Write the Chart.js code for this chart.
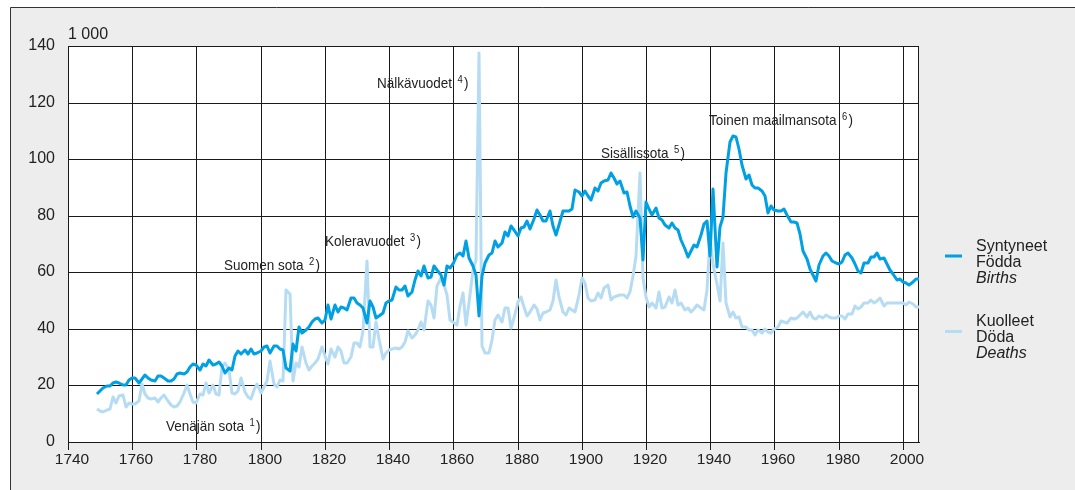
<!DOCTYPE html>
<html><head><meta charset="utf-8">
<script src="https://cdn.jsdelivr.net/npm/chart.js@4.4.1/dist/chart.umd.min.js"></script>
<style>
html,body{margin:0;padding:0;background:#fff;}
canvas{display:block;}
</style></head><body>
<canvas id="c" width="1075" height="490"></canvas>
<script>
// ---------------- DATA ----------------
const FIRST_YEAR = 1749;
// Live births, thousands (1749 ... 2005)
const births = [
  17.0,
  18.0, 19.0, 19.7, 19.8, 20.8, 21.2, 20.8, 20.2, 20.0, 22.0,
  22.8, 22.5, 21.0, 22.2, 23.6, 22.8, 22.0, 21.7, 23.2, 23.4,
  22.8, 21.7, 21.5, 22.2, 23.9, 24.3, 23.9, 24.7, 26.4, 27.7,
  27.2, 25.5, 27.7, 27.0, 28.9, 27.1, 27.5, 28.2, 26.8, 24.5,
  26.2, 25.5, 30.5, 32.2, 31.0, 32.5, 31.0, 32.8, 31.2, 31.5,
  32.0, 33.5, 34.0, 31.5, 34.0, 34.0, 33.0, 32.5, 26.0, 25.0,
  34.5, 32.0, 40.5, 38.5, 39.7, 40.8, 42.5, 43.5, 43.8, 42.0,
  43.0, 48.5, 43.5, 48.5, 46.0, 47.9, 47.3, 46.7, 50.9, 50.9,
  49.1, 48.5, 47.3, 42.0, 50.0, 47.9, 43.8, 44.6, 45.5, 49.1,
  49.7, 50.3, 54.8, 53.8, 53.6, 55.0, 51.5, 53.2, 57.4, 60.3,
  58.6, 62.3, 58.0, 58.4, 62.3, 60.9, 59.1, 55.6, 62.1, 61.5,
  63.1, 66.2, 66.8, 65.8, 70.9, 65.0, 62.1, 59.1, 44.4, 58.6,
  63.3, 66.2, 66.8, 70.9, 69.1, 70.3, 74.1, 72.7, 76.5, 75.1,
  72.7, 75.7, 76.0, 78.0, 75.3, 78.9, 81.9, 80.4, 78.0, 78.0,
  81.8, 76.2, 73.3, 76.8, 81.8, 81.5, 81.8, 82.4, 89.2, 88.3,
  86.9, 88.6, 86.9, 85.7, 89.9, 88.6, 91.6, 92.4, 92.5, 95.1,
  93.3, 91.3, 92.4, 88.0, 88.3, 83.3, 79.7, 81.5, 79.2, 64.4,
  84.7, 82.2, 80.3, 82.8, 79.2, 78.6, 76.6, 75.6, 77.3, 75.6,
  75.0, 71.5, 68.4, 65.4, 67.4, 69.7, 68.9, 73.2, 77.2, 78.0,
  65.6, 89.6, 62.0, 76.1, 79.5, 95.0, 106.1, 108.2, 107.8, 103.5,
  98.1, 93.1, 94.3, 90.9, 89.8, 89.7, 88.9, 87.0, 81.1, 83.3,
  82.1, 81.5, 81.5, 82.3, 80.4, 77.9, 77.7, 77.3, 73.7, 67.5,
  64.6, 61.1, 58.9, 56.8, 62.5, 65.7, 66.8, 65.7, 64.0, 63.4,
  63.1, 63.5, 66.1, 66.9, 65.1, 62.8, 60.6, 59.8, 63.3, 63.3,
  65.5, 65.4, 66.7, 64.8, 65.2, 63.1, 60.7, 59.3, 57.1, 57.6,
  56.7, 56.2, 55.6, 56.6, 57.8, 57.7
];
// Deaths, thousands (1749 ... 2005)
const deaths = [
  11.5,
  11.0, 10.5, 11.3, 11.5, 15.8, 13.8, 16.3, 16.5, 12.5, 13.8,
  13.5, 13.6, 14.5, 20.6, 17.0, 15.5, 15.2, 15.6, 14.0, 15.5,
  16.7, 14.5, 13.2, 12.5, 12.6, 14.2, 17.5, 20.0, 17.0, 14.2,
  13.8, 17.0, 16.5, 20.8, 17.2, 20.0, 16.8, 16.5, 26.5, 28.0,
  25.5, 17.5, 17.0, 18.0, 22.8, 17.6, 15.8, 15.2, 18.5, 20.5,
  17.5, 19.5, 21.5, 28.5, 20.5, 19.5, 22.0, 21.5, 53.8, 52.5,
  21.5, 28.0, 26.5, 33.5, 28.0, 25.5, 27.0, 28.0, 29.5, 33.5,
  30.5, 27.5, 33.0, 30.0, 33.5, 32.0, 28.0, 27.8, 30.2, 35.0,
  35.0, 33.7, 39.1, 64.0, 33.5, 33.7, 42.6, 36.5, 29.5, 31.4,
  32.6, 33.0, 33.2, 32.9, 33.5, 35.5, 39.1, 36.7, 37.9, 39.7,
  42.6, 39.7, 49.7, 48.5, 43.8, 55.0, 58.0, 55.6, 52.0, 43.2,
  42.6, 41.4, 48.0, 52.6, 41.4, 49.1, 60.9, 64.4, 137.7, 34.0,
  31.6, 31.6, 36.1, 43.2, 44.9, 42.6, 47.3, 47.3, 40.2, 44.0,
  49.6, 51.4, 47.9, 44.4, 46.1, 48.5, 47.0, 43.2, 45.6, 46.1,
  46.7, 49.7, 57.4, 51.4, 46.1, 44.9, 47.3, 46.5, 46.1, 52.0,
  58.0, 56.2, 50.9, 49.7, 50.3, 52.6, 50.9, 54.4, 55.6, 50.3,
  51.4, 51.7, 52.0, 52.0, 50.9, 53.2, 58.6, 65.7, 95.1, 58.0,
  51.4, 47.9, 49.0, 47.3, 53.2, 47.3, 47.9, 51.3, 49.1, 53.8,
  48.5, 49.0, 46.7, 47.3, 46.1, 47.0, 48.3, 47.3, 46.7, 53.8,
  71.8, 63.0, 56.0, 49.7, 70.3, 49.1, 44.3, 46.1, 43.7, 44.3,
  40.7, 40.5, 39.5, 39.7, 38.0, 39.6, 38.6, 40.0, 38.8, 38.7,
  39.8, 40.6, 42.9, 42.5, 42.0, 44.0, 43.5, 43.8, 45.0, 45.9,
  44.1, 45.9, 43.9, 43.4, 44.7, 43.8, 44.8, 44.1, 43.7, 43.7,
  44.4, 44.4, 43.4, 45.4, 45.1, 48.2, 47.1, 47.9, 49.1, 49.1,
  50.1, 49.3, 49.8, 50.9, 48.0, 49.3, 49.2, 49.1, 49.3, 49.3,
  49.3, 48.6, 49.4, 48.9, 47.6, 47.9
];
const years = births.map((_, i) => FIRST_YEAR + i);
const xTickValues = [1740, 1760, 1780, 1800, 1820, 1840, 1860, 1880, 1900, 1920, 1940, 1960, 1980, 2000];
const yTickValues = [0, 20, 40, 60, 80, 100, 120, 140];
const unitLabel = '1 000';
const seriesNames = [['Syntyneet', 'Födda', 'Births'], ['Kuolleet', 'Döda', 'Deaths']];
const eventLabels = ['Venäjän sota', 'Suomen sota', 'Koleravuodet', 'Nälkävuodet', 'Sisällissota', 'Toinen maailmansota'];
const eventNotes = ['1', '2', '3', '4', '5', '6'];

// ---------------- STYLE / LAYOUT ----------------
const FONT = '"Liberation Sans", Arial, Helvetica, sans-serif';
const BIRTH_COLOR = '#00a0e3';
const DEATH_COLOR = '#b6dcf4';
const GRID = '#1a1a1a';
const TEXT = '#222';
// anchor of each event label (x in years, y in thousands: left edge / baseline)
const eventAnchors = [[1770.6, 3.9], [1788.7, 60.9], [1819.9, 69.4], [1836.1, 125.0], [1906.1, 100.4], [1939.6, 112.2]];

function drawNote(ctx, x, y, text, sup) {
  ctx.save();
  ctx.translate(x, y);
  ctx.scale(0.9, 1);
  ctx.fillStyle = TEXT;
  ctx.textBaseline = 'alphabetic';
  ctx.textAlign = 'left';
  ctx.font = '15px ' + FONT;
  ctx.fillText(text, 0, 0);
  let w = ctx.measureText(text).width + 6;
  ctx.font = '10.5px ' + FONT;
  ctx.fillText(sup, w, -5.5);
  w += ctx.measureText(sup).width + 1.5;
  ctx.font = '15px ' + FONT;
  ctx.fillText(')', w, 0);
  ctx.restore();
}

const decor = {
  id: 'decor',
  beforeDraw(chart) {
    const { ctx, chartArea: a, width, height } = chart;
    ctx.save();
    ctx.fillStyle = '#fff';
    ctx.fillRect(0, 0, width, height);
    ctx.fillStyle = '#ededed';
    ctx.fillRect(10, 7, width - 10, height - 7);
    ctx.strokeStyle = '#333';
    ctx.lineWidth = 1;
    ctx.beginPath();
    ctx.moveTo(10.5, height);
    ctx.lineTo(10.5, 7.5);
    ctx.lineTo(width, 7.5);
    ctx.stroke();
    ctx.fillStyle = '#fff';
    ctx.fillRect(a.left, a.top, a.right - a.left, a.bottom - a.top);
    ctx.restore();
  },
  beforeDatasetsDraw(chart) {
    const { ctx, chartArea: a } = chart;
    ctx.save();
    ctx.strokeStyle = GRID;
    ctx.lineWidth = 1;
    ctx.beginPath();
    ctx.moveTo(Math.round(a.right) - 0.5, a.top);
    ctx.lineTo(Math.round(a.right) - 0.5, a.bottom);
    ctx.stroke();
    ctx.restore();
  },
  afterDraw(chart) {
    const { ctx, chartArea: a, scales } = chart;
    ctx.save();
    ctx.fillStyle = TEXT;
    ctx.font = '16px ' + FONT;
    ctx.textBaseline = 'alphabetic';
    ctx.fillText(unitLabel, a.left, a.top - 7);
    eventLabels.forEach((t, i) => {
      const [yr, v] = eventAnchors[i];
      drawNote(ctx, scales.x.getPixelForValue(yr), scales.y.getPixelForValue(v), t, eventNotes[i]);
    });
    const blocks = [{ base: 251, line: 256, color: BIRTH_COLOR }, { base: 325.5, line: 331.5, color: DEATH_COLOR }];
    blocks.forEach((b, i) => {
      ctx.strokeStyle = b.color;
      ctx.lineWidth = 3;
      ctx.beginPath();
      ctx.moveTo(a.right + 26, b.line);
      ctx.lineTo(a.right + 43, b.line);
      ctx.stroke();
      seriesNames[i].forEach((s, j) => {
        ctx.font = (j === 2 ? 'italic ' : '') + '16px ' + FONT;
        ctx.fillStyle = TEXT;
        ctx.fillText(s, a.right + 57, b.base + j * 16);
      });
    });
    ctx.restore();
  }
};

new Chart(document.getElementById('c'), {
  type: 'line',
  data: {
    datasets: [
      {
        label: seriesNames[0][0],
        data: years.map((y, i) => ({ x: y, y: births[i] })),
        borderColor: BIRTH_COLOR, borderWidth: 3, pointRadius: 0, tension: 0,
        borderJoinStyle: 'round', fill: false
      },
      {
        label: seriesNames[1][0],
        data: years.map((y, i) => ({ x: y, y: deaths[i] })),
        borderColor: DEATH_COLOR, borderWidth: 3, pointRadius: 0, tension: 0,
        borderJoinStyle: 'round', fill: false
      }
    ]
  },
  options: {
    responsive: false,
    animation: false,
    devicePixelRatio: 1,
    layout: { padding: { left: 10, right: 156, top: 46, bottom: 18 } },
    plugins: { legend: { display: false }, tooltip: { enabled: false } },
    scales: {
      x: {
        type: 'linear', min: 1740, max: 2005, alignToPixels: true,
        afterBuildTicks: s => { s.ticks = xTickValues.map(v => ({ value: v })); },
        afterFit: s => { s.height = 30; },
        ticks: {
          font: { family: FONT, size: 15.5 }, color: TEXT, padding: 0, labelOffset: 4,
          maxRotation: 0, autoSkip: false, includeBounds: false, callback: v => String(v)
        },
        grid: { color: GRID, lineWidth: 1, tickLength: 8, tickColor: GRID, drawTicks: true },
        border: { display: true, color: GRID, width: 1 }
      },
      y: {
        min: 0, max: 140, alignToPixels: true,
        afterBuildTicks: s => { s.ticks = yTickValues.map(v => ({ value: v })); },
        afterFit: s => { s.width = 58; },
        ticks: { font: { family: FONT, size: 16 }, color: TEXT, padding: 13, callback: v => String(v) },
        grid: { color: GRID, lineWidth: 1, drawTicks: false },
        border: { display: true, color: GRID, width: 1 }
      }
    }
  },
  plugins: [decor]
});
</script>
</body></html>
